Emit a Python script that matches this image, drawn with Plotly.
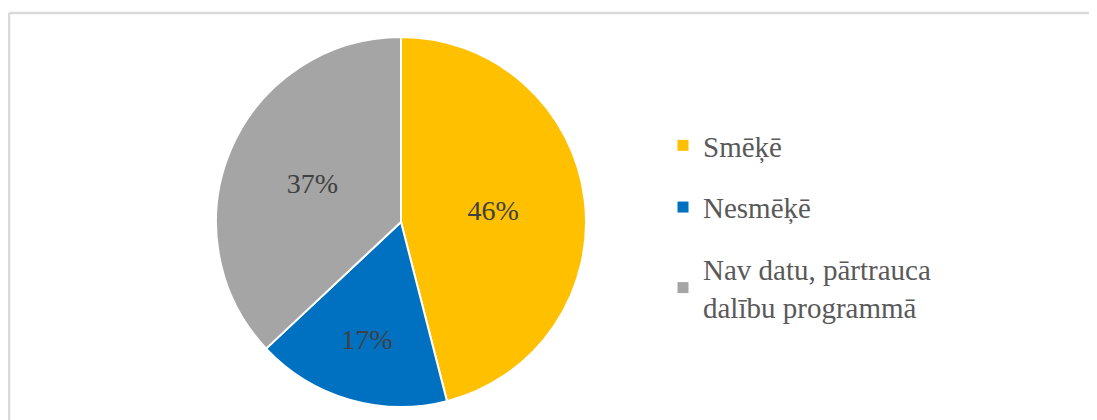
import plotly.graph_objects as go

categories = ["Smēķē", "Nesmēķē", "Nav datu, pārtrauca<br>dalību programmā"]
values = [46, 17, 37]
colors = ["#FFC000", "#0070C0", "#A5A5A5"]

W, H = 1097, 420
OFF = 8  # page body margin
FONT = "Liberation Serif, Times New Roman, serif"


def px(x):
    return (x - OFF) / W


def py(y):
    return 1 - (y - OFF) / H


fig = go.Figure()
fig.add_trace(go.Pie(
    labels=categories,
    values=values,
    marker=dict(colors=colors, line=dict(color="white", width=2)),
    sort=False,
    direction="clockwise",
    rotation=0,
    textinfo="percent",
    texttemplate="%{percent:.0%}",
    textposition="inside",
    insidetextorientation="horizontal",
    textfont=dict(family=FONT, size=28, color="#404040"),
    showlegend=False,
    hoverinfo="label+percent",
    domain=dict(x=[px(216), px(586)], y=[py(407), py(37)]),
))

for i, (name, c) in enumerate(zip(categories, colors)):
    fig.add_trace(go.Scatter(
        x=[None], y=[None], mode="markers", name=name,
        marker=dict(symbol="square", size=11, color=c),
        legendgroup=f"g{i}", showlegend=True, hoverinfo="skip",
    ))

fig.update_layout(
    width=W, height=H,
    margin=dict(l=0, r=0, t=0, b=0),
    paper_bgcolor="white", plot_bgcolor="white",
    xaxis=dict(visible=False), yaxis=dict(visible=False),
    showlegend=True,
    legend=dict(
        x=px(663), y=py(120), xanchor="left", yanchor="top",
        font=dict(family=FONT, size=29, color="#595959"),
        tracegroupgap=21, itemwidth=30,
        bgcolor="rgba(0,0,0,0)",
    ),
    shapes=[
        dict(type="line", xref="paper", yref="paper", x0=px(9), x1=1.0, y0=py(13), y1=py(13),
             line=dict(color="#D9D9D9", width=2.5)),
        dict(type="line", xref="paper", yref="paper", x0=px(9), x1=px(9), y0=0, y1=py(13),
             line=dict(color="#D9D9D9", width=2.5)),
    ],
)

fig.write_html("out.html")
